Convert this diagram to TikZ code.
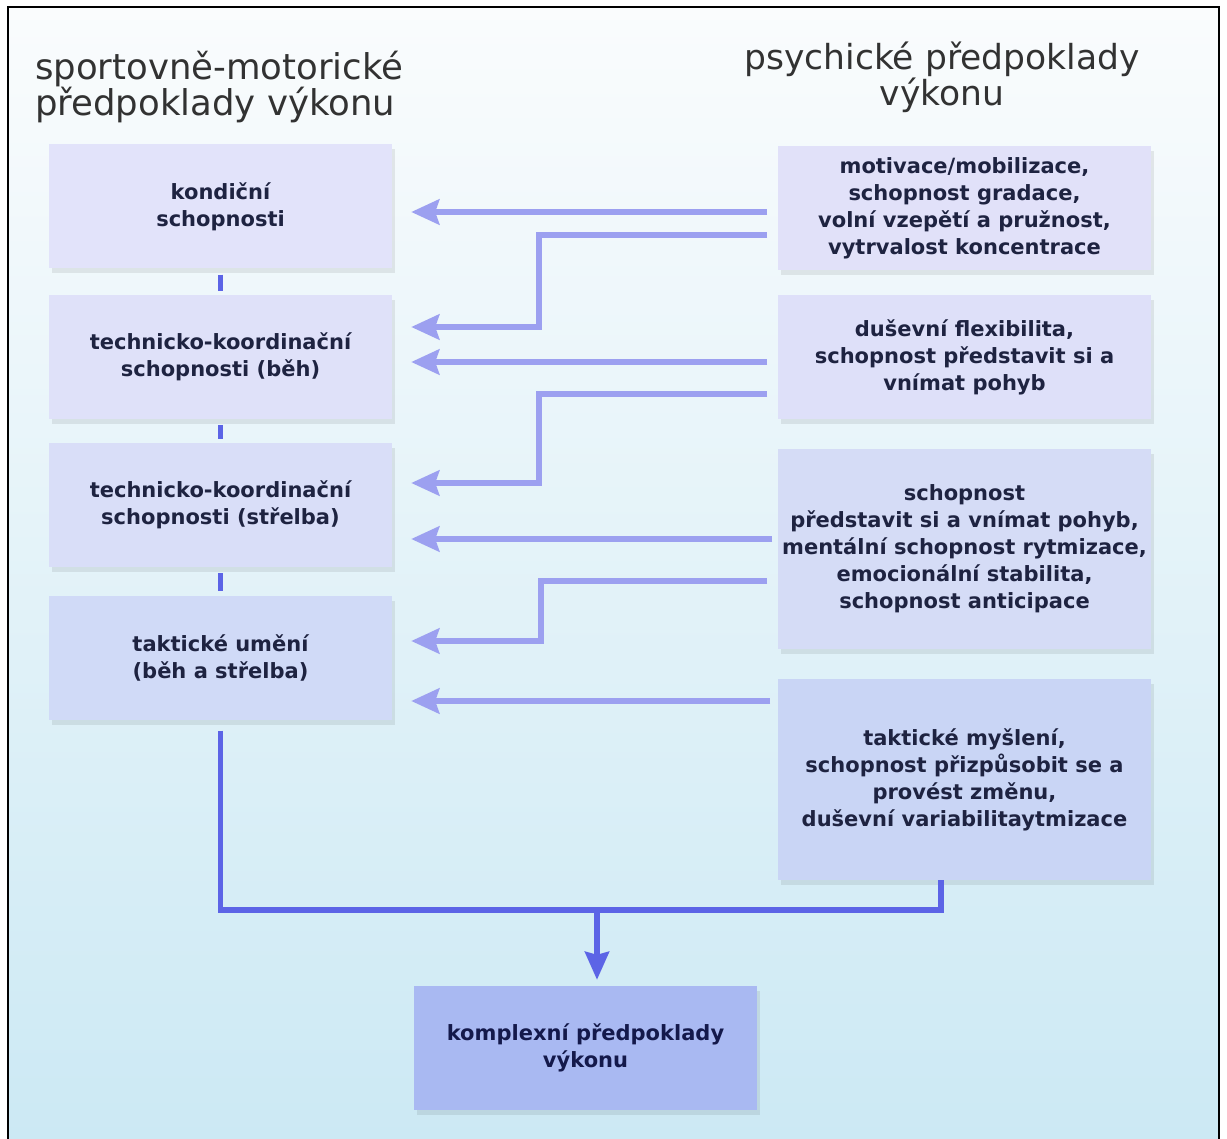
\documentclass[tikz,border=0pt]{standalone}
\usepackage{fontspec}
\setmainfont{DejaVu Sans}
\usetikzlibrary{arrows.meta,shadows}

\definecolor{boxtext}{RGB}{30,35,65}
\definecolor{complextext}{RGB}{20,25,75}
\definecolor{titletext}{RGB}{50,50,50}
\definecolor{arrowlight}{RGB}{156,160,240}
\definecolor{busblue}{RGB}{92,100,230}
\definecolor{bgtop}{RGB}{250,252,253}
\definecolor{bgmid}{RGB}{234,245,249}
\definecolor{bgbottom}{RGB}{204,233,244}
\definecolor{condfill}{RGB}{226,227,250}
\definecolor{runfill}{RGB}{223,225,249}
\definecolor{shootfill}{RGB}{217,222,248}
\definecolor{tactfill}{RGB}{208,218,247}
\definecolor{motivfill}{RGB}{225,225,249}
\definecolor{flexfill}{RGB}{222,224,249}
\definecolor{imagfill}{RGB}{213,220,246}
\definecolor{thinkfill}{RGB}{201,213,245}
\definecolor{complexfill}{RGB}{169,185,242}

\begin{document}
\begin{tikzpicture}[x=1pt,y=-1pt,
  box/.style={rectangle,minimum width=343pt,minimum height=124pt,inner sep=2pt,
    align=center,text=boxtext,font=\bfseries\fontsize{21}{27}\selectfont,
    drop shadow={shadow xshift=3pt,shadow yshift=-5pt,fill=black,opacity=0.08}},
  psybox/.style={box,minimum width=373pt},
  title/.style={inner sep=0pt,text=titletext,font=\fontsize{35}{36.5}\selectfont},
  feed/.style={draw=arrowlight,line width=6pt,
    -{Stealth[length=28pt,width=25pt,inset=4pt]},shorten >=19pt},
  tick/.style={draw=busblue,line width=5.5pt,shorten <=6pt,shorten >=4pt},
  link/.style={draw=busblue,line width=5.5pt}]
\useasboundingbox (0,0) rectangle (1227,1139);
%Background and frame
\fill[white] (0,0) rectangle (1227,1139);
\shade[top color=bgtop,middle color=bgmid,bottom color=bgbottom] (8,7) rectangle (1219,1139);
\draw[line width=1.6pt] (8,1139) -- (8,7) -- (1219,7) -- (1219,1139);

%Titles
\node at (35,116) [title,anchor=base west,align=left,font=\fontsize{35.5}{36.5}\selectfont] (MotorTitle) {sportovně-motorické\\předpoklady výkonu};
\node at (942,106) [title,anchor=base,align=center,font=\fontsize{34.5}{36.5}\selectfont] (PsychTitle) {psychické předpoklady\\výkonu};

%Node Coordinates
\node at (220.5,206.5) [box,fill=condfill] (Cond) {kondiční\\schopnosti};
\node at (220.5,357) [box,fill=runfill] (TechRun) {technicko-koordinační\\schopnosti (běh)};
\node at (220.5,505) [box,fill=shootfill] (TechShoot) {technicko-koordinační\\schopnosti (střelba)};
\node at (220.5,657.5) [box,fill=tactfill] (Tact) {taktické umění\\(běh a střelba)};
\node at (964.5,208.5) [psybox,fill=motivfill] (Motiv) {motivace/mobilizace,\\schopnost gradace,\\volní vzepětí a pružnost,\\vytrvalost koncentrace};
\node at (964.5,357) [psybox,fill=flexfill] (Flex) {duševní flexibilita,\\schopnost představit si a\\vnímat pohyb};
\node at (964.5,549) [psybox,minimum height=200pt,fill=imagfill] (Imag) {schopnost\\představit si a vnímat pohyb,\\mentální schopnost rytmizace,\\emocionální stabilita,\\schopnost anticipace};
\node at (964.5,779.5) [psybox,minimum height=201pt,fill=thinkfill] (Think) {taktické myšlení,\\schopnost přizpůsobit se a\\provést změnu,\\duševní variabilitaytmizace};
\node at (585.5,1048) [box,fill=complexfill,text=complextext] (Complex) {komplexní předpoklady\\výkonu};

%Arrow Coordinates
\coordinate (m1) at (767,212);
\coordinate (m2) at (767,235);
\coordinate (k1) at (539,327);
\coordinate (f1) at (767,362);
\coordinate (f2) at (767,394);
\coordinate (k2) at (539,483);
\coordinate (i1) at (772,539);
\coordinate (i2) at (767,581);
\coordinate (k3) at (541,641);
\coordinate (t1) at (770,701);
\coordinate (t2) at (941,880);
\coordinate (j) at (597,910);

%Connections
\draw [feed] (m1) -- (m1 -| Cond.east);
\draw [feed] (m2) -| (k1) -- (k1 -| TechRun.east);
\draw [feed] (f1) -- (f1 -| TechRun.east);
\draw [feed] (f2) -| (k2) -- (k2 -| TechShoot.east);
\draw [feed] (i1) -- (i1 -| TechShoot.east);
\draw [feed] (i2) -| (k3) -- (k3 -| Tact.east);
\draw [feed] (t1) -- (t1 -| Tact.east);
\draw [tick] (Cond.south) -- (TechRun.north);
\draw [tick] (TechRun.south) -- (TechShoot.north);
\draw [tick] (TechShoot.south) -- (Tact.north);
\draw [link] (Tact.south) ++(0,11) |- (j) -| (t2);
\draw [link,-{Stealth[length=28pt,width=24pt,inset=3pt]},shorten >=6pt] (j) -- (j |- Complex.north);
\end{tikzpicture}
\end{document}
